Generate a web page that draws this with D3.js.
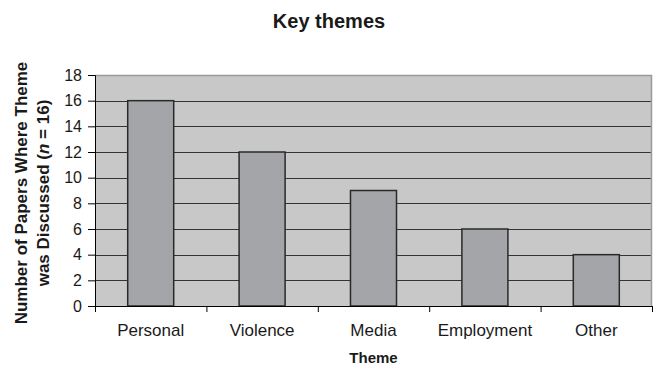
<!DOCTYPE html>
<html>
<head>
<meta charset="utf-8">
<script src="https://cdn.jsdelivr.net/npm/d3@7"></script>
<style>
	body { margin: 0; background: #fff; }
	text { font-family: "Liberation Sans", Arial, sans-serif; fill: #1a1a1a; }
</style>
</head>
<body>
<svg id="chart" width="659" height="370"></svg>
<script>
// values
var themes = ["Personal", "Violence", "Media", "Employment", "Other"];
var papers = [16, 12, 9, 6, 4];
var yTicks = [0, 2, 4, 6, 8, 10, 12, 14, 16, 18];

var margin = {top: 75, right: 7, bottom: 64, left: 95},
	width = 659 - margin.left - margin.right,
	height = 370 - margin.top - margin.bottom;

var svg = d3.select("#chart");

var x = d3.scaleBand()
	.domain(themes)
	.range([0, width])
	.paddingInner(0.587)
	.paddingOuter(0.2935);

// category boundaries for the x tick marks
var xEdge = d3.scaleLinear().domain([0, themes.length]).range([0, width]);

var y = d3.scaleLinear()
	.domain([0, d3.max(yTicks)])
	.range([height, 0]);

var g = svg.append("g")
	.attr("transform", "translate(" + margin.left + "," + margin.top + ")");

// plot area
g.append("rect")
	.attr("width", width)
	.attr("height", height)
	.style("fill", "#c8c8c8");

// gridlines
g.selectAll(".grid")
	.data(yTicks.slice(1))
	.enter().append("line")
	.attr("class", "grid")
	.attr("x1", 0)
	.attr("x2", width)
	.attr("y1", function(d) { return Math.round(y(d)) + 0.5; })
	.attr("y2", function(d) { return Math.round(y(d)) + 0.5; })
	.style("stroke", "#333")
	.style("stroke-width", 1);

// top / right border
g.append("path")
	.attr("d", "M0," + 0.5 + "H" + (width - 0.5) + "V" + height)
	.style("fill", "none")
	.style("stroke", "#9a9a9a")
	.style("stroke-width", 1.5);

// bars
g.selectAll(".bar")
	.data(papers)
	.enter().append("rect")
	.attr("class", "bar")
	.attr("x", function(d, i) { return x(themes[i]); })
	.attr("y", function(d) { return y(d); })
	.attr("width", x.bandwidth())
	.attr("height", function(d) { return height - y(d); })
	.style("fill", "#a4a5a9")
	.style("stroke", "#2a2a2a")
	.style("stroke-width", 1.5);

// y axis
var yAxis = g.append("g")
	.call(d3.axisLeft(y).tickValues(yTicks).tickSize(7).tickPadding(6));
yAxis.select(".domain").style("stroke", "#000").attr("d", "M-7,0.5H0.5V" + height);
yAxis.selectAll(".tick line").style("stroke", "#000");
yAxis.selectAll(".tick text")
	.style("font-size", "16px")
	.style("font-family", "Liberation Sans, Arial, sans-serif")
	.style("fill", "#1a1a1a");

// x axis: boundary ticks
var xTicks = g.append("g")
	.attr("transform", "translate(0," + height + ")")
	.call(d3.axisBottom(xEdge).tickValues(d3.range(themes.length + 1)).tickFormat("").tickSize(6));
xTicks.select(".domain").style("stroke", "#000").attr("d", "M0,0.5H" + width);
xTicks.selectAll(".tick line").style("stroke", "#000");

// x axis: category labels
var xAxis = g.append("g")
	.attr("transform", "translate(0," + height + ")")
	.call(d3.axisBottom(x).tickSize(0).tickPadding(18));
xAxis.select(".domain").remove();
xAxis.selectAll(".tick text")
	.style("font-size", "17px")
	.style("font-family", "Liberation Sans, Arial, sans-serif")
	.style("fill", "#1a1a1a");

// title
svg.append("text")
	.attr("x", 329)
	.attr("y", 28)
	.attr("text-anchor", "middle")
	.style("font-size", "20px")
	.style("font-weight", "bold")
	.text("Key themes");

// x axis title
svg.append("text")
	.attr("x", margin.left + width / 2)
	.attr("y", 363)
	.attr("text-anchor", "middle")
	.style("font-size", "15px")
	.style("font-weight", "bold")
	.text("Theme");

// y axis title, two lines
var yTitle = svg.append("text")
	.attr("transform", "translate(27,193) rotate(-90)")
	.attr("text-anchor", "middle")
	.style("font-size", "17px")
	.style("font-weight", "bold");
yTitle.append("tspan")
	.attr("x", 0)
	.attr("y", 0)
	.text("Number of Papers Where Theme");
var line2 = yTitle.append("tspan")
	.attr("x", 0)
	.attr("y", 22);
line2.append("tspan").text("was Discussed (");
line2.append("tspan").style("font-style", "italic").text("n");
line2.append("tspan").text(" = 16)");
</script>
</body>
</html>
